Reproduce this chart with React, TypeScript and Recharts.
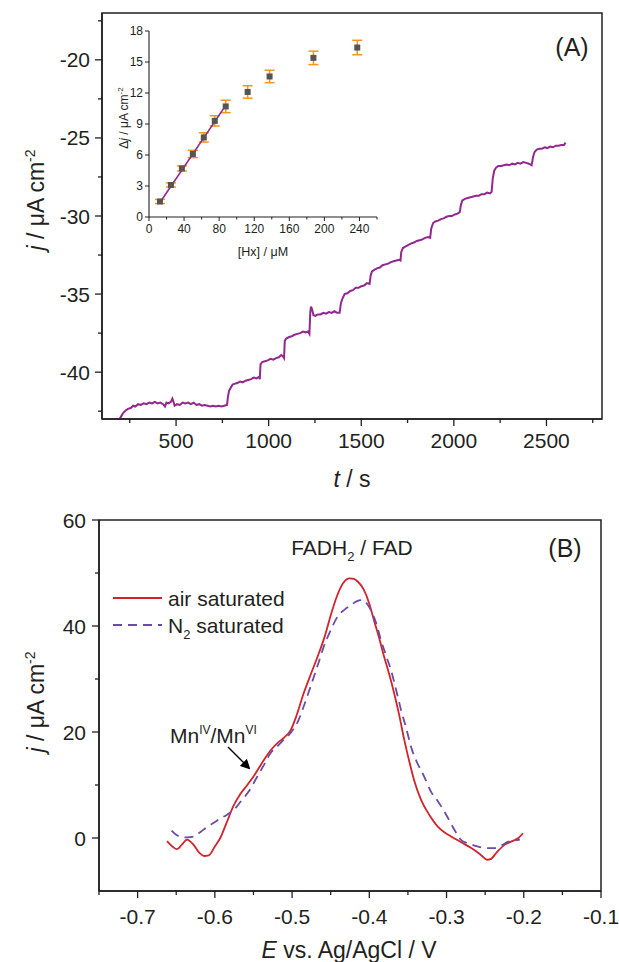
import React from 'react';
import {
  LineChart,
  Line,
  ComposedChart,
  Scatter,
  ErrorBar,
  XAxis,
  YAxis,
  ReferenceArea,
} from 'recharts';

const FONT = '"Liberation Sans", Arial, Helvetica, sans-serif';
const INK = '#231f20';
const PURPLE = '#93278f';

// (A) amperometric response, t in s, j in uA cm-2
const traceTime = [
  195, 205, 215, 228, 240, 255, 268, 280, 295, 310, 325, 340, 355, 370, 385, 400, 415, 430, 440, 448,
  460, 472, 480, 486, 492, 505, 520, 535, 550, 565, 580, 595, 610, 625, 640, 655, 670, 685, 700, 715,
  730, 745, 760, 775, 780, 786, 795, 805, 815, 830, 845, 860, 875, 890, 905, 920, 935, 948, 952, 956,
  965, 980, 995, 1010, 1025, 1040, 1055, 1068, 1078, 1083, 1087, 1095, 1110, 1125, 1140, 1155, 1170, 1185, 1200, 1212,
  1220, 1225, 1229, 1235, 1242, 1252, 1265, 1280, 1295, 1310, 1325, 1340, 1355, 1370, 1383, 1390, 1398, 1410, 1425, 1440,
  1455, 1470, 1485, 1500, 1515, 1530, 1545, 1551, 1558, 1570, 1585, 1600, 1615, 1630, 1645, 1660, 1675, 1690, 1705, 1712,
  1716, 1725, 1740, 1755, 1770, 1785, 1800, 1815, 1830, 1845, 1860, 1872, 1878, 1888, 1900, 1915, 1930, 1945, 1960, 1975,
  1990, 2005, 2020, 2032, 2038, 2046, 2060, 2075, 2090, 2105, 2120, 2135, 2150, 2165, 2180, 2195, 2204, 2210, 2218, 2228,
  2240, 2255, 2270, 2285, 2300, 2315, 2330, 2345, 2360, 2375, 2390, 2405, 2420, 2428, 2436, 2448, 2460, 2475, 2490, 2505,
  2520, 2535, 2550, 2565, 2580, 2595, 2603,
];
const traceCurrent = [
  -43.0, -42.8, -42.6, -42.45, -42.35, -42.3, -42.15, -42.2, -42.05, -42.1, -42.0, -42.05, -41.95, -42.0, -41.9, -42.0, -41.95, -42.05, -42.2, -41.95,
  -42.0, -41.9, -41.7, -41.9, -42.15, -42.05, -42.1, -41.95, -42.0, -41.95, -42.05, -41.95, -42.1, -42.05, -42.15, -42.1, -42.15, -42.2, -42.15, -42.2,
  -42.15, -42.2, -42.15, -42.1, -41.6, -41.2, -41.0, -40.8, -40.75, -40.7, -40.6, -40.65, -40.55, -40.5, -40.45, -40.35, -40.4, -40.3, -40.45, -39.5,
  -39.35, -39.3, -39.25, -39.15, -39.2, -39.1, -39.05, -38.9, -39.0, -39.1, -38.0, -37.85, -37.75, -37.7, -37.6, -37.55, -37.5, -37.4, -37.45, -37.4,
  -37.55, -36.1, -35.8, -36.0, -36.35, -36.4, -36.3, -36.3, -36.2, -36.25, -36.15, -36.2, -36.1, -36.2, -36.2, -35.6, -35.3, -35.0, -34.95, -34.8,
  -34.75, -34.6, -34.6, -34.5, -34.45, -34.3, -34.35, -33.8, -33.55, -33.45, -33.35, -33.3, -33.15, -33.1, -33.05, -32.95, -32.9, -32.85, -32.8, -32.85,
  -32.3, -32.05, -31.95, -31.85, -31.75, -31.7, -31.6, -31.55, -31.5, -31.4, -31.35, -31.4, -30.8, -30.45, -30.35, -30.3, -30.2, -30.15, -30.05, -30.0,
  -30.0, -29.9, -29.85, -29.75, -29.3, -29.0, -28.9, -28.85, -28.8, -28.75, -28.7, -28.7, -28.6, -28.6, -28.5, -28.55, -28.45, -27.6, -27.1, -26.9,
  -26.8, -26.8, -26.75, -26.7, -26.75, -26.65, -26.7, -26.6, -26.65, -26.55, -26.6, -26.65, -26.75, -26.2, -25.9, -25.75, -25.7, -25.7, -25.6, -25.65,
  -25.55, -25.6, -25.5, -25.5, -25.45, -25.45, -25.3,
];

// inset: calibration
const hxConc = [12.5, 25, 37.5, 50, 62.5, 75, 87.5, 112.5, 137.5, 187.5, 237.5];
const deltaJ = [1.5, 3.1, 4.7, 6.1, 7.7, 9.3, 10.7, 12.1, 13.6, 15.4, 16.4];
const deltaJErr = [0.2, 0.2, 0.25, 0.35, 0.45, 0.5, 0.6, 0.6, 0.6, 0.65, 0.7];
const fitConc = [12.5, 87.5];
const fitDeltaJ = [1.4, 10.8];

// (B) voltammograms, E in V, j in uA cm-2
const airE = [
  -0.662, -0.655, -0.649, -0.643, -0.636, -0.628, -0.62, -0.614, -0.608, -0.6, -0.593, -0.585, -0.576, -0.567, -0.558,
  -0.55, -0.537, -0.528, -0.519, -0.51, -0.502, -0.494, -0.485, -0.476, -0.467, -0.458, -0.45, -0.443, -0.437, -0.431,
  -0.426, -0.42, -0.415, -0.407, -0.4, -0.394, -0.387, -0.381, -0.374, -0.368, -0.361, -0.355, -0.348, -0.342, -0.333,
  -0.322, -0.311, -0.302, -0.294, -0.281, -0.268, -0.257, -0.247, -0.243, -0.235, -0.225, -0.215, -0.207, -0.201,
];
const airJ = [
  -0.6, -1.6, -2.1, -1.3, -0.3, -1.2, -2.8, -3.4, -3.3, -1.6, 0.0, 2.8, 6.0, 8.3, 10.0,
  11.6, 14.6, 16.5, 17.9, 19.0, 20.3, 23.2, 27.3, 30.8, 34.2, 37.9, 42.0, 45.2, 47.3, 48.6,
  49.0, 48.9, 48.4, 46.8, 44.2, 41.1, 37.6, 34.3, 30.8, 27.4, 23.0, 18.7, 14.3, 10.9, 7.2,
  4.3, 2.1, 1.0, 0.3, -0.8, -1.9, -3.0, -4.1, -4.0, -2.7, -1.3, -0.6, 0.0, 0.9,
];
const n2E = [
  -0.656, -0.65, -0.645, -0.636, -0.628, -0.619, -0.61, -0.6, -0.593, -0.585, -0.58, -0.573, -0.567, -0.556, -0.545,
  -0.536, -0.528, -0.519, -0.511, -0.502, -0.493, -0.485, -0.476, -0.467, -0.459, -0.45, -0.441, -0.432, -0.424, -0.416,
  -0.409, -0.403, -0.398, -0.391, -0.385, -0.378, -0.372, -0.365, -0.359, -0.352, -0.346, -0.338, -0.329, -0.32, -0.311,
  -0.299, -0.29, -0.281, -0.27, -0.26, -0.249, -0.238, -0.229, -0.22, -0.212, -0.205,
];
const n2J = [
  1.4, 0.6, 0.25, 0.1, 0.25, 1.1, 2.1, 3.0, 3.7, 4.3, 4.8, 5.7, 6.8, 8.8, 11.6,
  13.9, 16.0, 17.3, 18.5, 19.8, 21.8, 24.8, 28.6, 32.5, 36.1, 39.2, 41.8, 43.1, 43.9, 44.7,
  44.9, 44.2, 43.0, 40.5, 37.4, 34.3, 31.7, 27.8, 24.2, 20.6, 17.2, 14.2, 11.6, 8.7, 6.9,
  4.0, 1.6, -0.4, -1.1, -1.6, -1.9, -1.9, -1.4, -0.7, -0.5, -0.3,
];

// axis ticks
const tTicks = [250, 500, 750, 1000, 1250, 1500, 1750, 2000, 2250, 2500, 2750];
const jTicksA = [-42.5, -40, -37.5, -35, -32.5, -30, -27.5, -25, -22.5, -20, -17.5];
const hxTicks = [0, 20, 40, 60, 80, 100, 120, 140, 160, 180, 200, 220, 240, 260];
const djTicks = [0, 3, 6, 9, 12, 15, 18];
const eTicks = [-0.75, -0.7, -0.65, -0.6, -0.55, -0.5, -0.45, -0.4, -0.35, -0.3, -0.25, -0.2, -0.15, -0.1];
const jTicksB = [0, 10, 20, 30, 40, 50, 60];

const traceData = traceTime.map((t, i) => ({ t, j: traceCurrent[i] }));
const calData = hxConc.map((x, i) => ({ x, y: deltaJ[i], err: deltaJErr[i] }));
const fitData = fitConc.map((x, i) => ({ x, y: fitDeltaJ[i] }));
const airData = airE.map((e, i) => ({ e, j: airJ[i] }));
const n2Data = n2E.map((e, i) => ({ e, j: n2J[i] }));

const isMult = (v: number, step: number) => Math.abs(v / step - Math.round(v / step)) < 1e-6;

type TickOpts = {
  side: 'bottom' | 'left';
  major: (v: number) => boolean;
  fmt: (v: number) => string;
  fontSize: number;
  gap: number;
  long: number;
  short: number;
  sw?: number;
};

const makeTick = (o: TickOpts) => (p: any) => {
  const { x, y } = p;
  const v = p.payload.value;
  const big = o.major(v);
  const len = big ? o.long : o.short;
  const sw = o.sw || 1.3;
  if (o.side === 'bottom') {
    return (
      <g>
        <line x1={x} y1={y} x2={x} y2={y + len} stroke={INK} strokeWidth={sw} />
        {big && (
          <text x={x} y={y + o.gap} textAnchor="middle" fontSize={o.fontSize} fontFamily={FONT} fill={INK}>
            {o.fmt(v)}
          </text>
        )}
      </g>
    );
  }
  return (
    <g>
      <line x1={x} y1={y} x2={x - len} y2={y} stroke={INK} strokeWidth={sw} />
      {big && (
        <text x={x - o.gap} y={y + o.fontSize * 0.36} textAnchor="end" fontSize={o.fontSize} fontFamily={FONT} fill={INK}>
          {o.fmt(v)}
        </text>
      )}
    </g>
  );
};

const tickAX = makeTick({ side: 'bottom', major: (v) => isMult(v, 500), fmt: (v) => String(v), fontSize: 21, gap: 29, long: 7, short: 4 });
const tickAY = makeTick({ side: 'left', major: (v) => isMult(v, 5), fmt: (v) => String(v), fontSize: 21, gap: 12, long: 7, short: 4 });
const tickInX = makeTick({ side: 'bottom', major: (v) => isMult(v, 40), fmt: (v) => String(v), fontSize: 12, gap: 16, long: 4, short: 2.5, sw: 1 });
const tickInY = makeTick({ side: 'left', major: () => true, fmt: (v) => String(v), fontSize: 12, gap: 6, long: 4, short: 4, sw: 1 });
const tickBX = makeTick({ side: 'bottom', major: (v) => isMult(v, 0.1), fmt: (v) => v.toFixed(1), fontSize: 21, gap: 33, long: 7, short: 4 });
const tickBY = makeTick({ side: 'left', major: (v) => isMult(v, 20), fmt: (v) => String(v), fontSize: 21, gap: 13, long: 7, short: 4 });

const Square = (p: any) => {
  const { cx, cy } = p;
  if (cx == null || cy == null) return null;
  return <rect x={cx - 3} y={cy - 3} width={6} height={6} fill="#555555" />;
};

const axisLine = { stroke: INK, strokeWidth: 1.5 };

export default function App() {
  return (
    <div style={{ position: 'absolute', left: 0, top: 0, width: 619, height: 962, background: '#fff', overflow: 'hidden' }}>
      {/* (A) */}
      <div style={{ position: 'absolute', left: 0, top: 0 }}>
        <LineChart width={619} height={500} data={traceData} margin={{ top: 13, right: 17, bottom: 41, left: 0 }}>
          <XAxis
            type="number"
            dataKey="t"
            domain={[100, 2800]}
            ticks={tTicks}
            interval={0}
            allowDataOverflow
            tickSize={0}
            tickMargin={0}
            tickLine={false}
            axisLine={axisLine}
            tick={tickAX}
            height={40}
          />
          <YAxis
            type="number"
            domain={[-43, -17]}
            ticks={jTicksA}
            interval={0}
            allowDataOverflow
            tickSize={0}
            tickMargin={0}
            tickLine={false}
            axisLine={axisLine}
            tick={tickAY}
            width={102}
          />
          <ReferenceArea x1={100} x2={2800} y1={-43} y2={-17} fill="none" fillOpacity={0} stroke={INK} strokeWidth={1.5} />
          <Line type="linear" dataKey="j" stroke={PURPLE} strokeWidth={2} dot={false} isAnimationActive={false} />
        </LineChart>
      </div>

      {/* inset */}
      <div style={{ position: 'absolute', left: 0, top: 0 }}>
        <ComposedChart width={400} height={270} margin={{ top: 31, right: 23, bottom: 23, left: 0 }}>
          <XAxis
            type="number"
            dataKey="x"
            domain={[0, 260]}
            ticks={hxTicks}
            interval={0}
            allowDataOverflow
            tickSize={0}
            tickMargin={0}
            tickLine={false}
            axisLine={{ stroke: INK, strokeWidth: 1.1 }}
            tick={tickInX}
            height={30}
          />
          <YAxis
            type="number"
            dataKey="y"
            domain={[0, 18]}
            ticks={djTicks}
            interval={0}
            allowDataOverflow
            tickSize={0}
            tickMargin={0}
            tickLine={false}
            axisLine={{ stroke: INK, strokeWidth: 1.1 }}
            tick={tickInY}
            width={149}
          />
          <Scatter data={calData} dataKey="y" shape={Square} isAnimationActive={false}>
            <ErrorBar dataKey="err" direction="y" width={5} stroke="#f7941d" strokeWidth={1.5} isAnimationActive={false} />
          </Scatter>
          <Line data={fitData} type="linear" dataKey="y" stroke={PURPLE} strokeWidth={1.6} dot={false} isAnimationActive={false} />
        </ComposedChart>
      </div>

      {/* (B) */}
      <div style={{ position: 'absolute', left: 0, top: 500 }}>
        <LineChart width={619} height={462} margin={{ top: 20, right: 18, bottom: 31, left: 0 }}>
          <XAxis
            type="number"
            dataKey="e"
            domain={[-0.75, -0.1]}
            ticks={eTicks}
            interval={0}
            allowDataOverflow
            tickSize={0}
            tickMargin={0}
            tickLine={false}
            axisLine={axisLine}
            tick={tickBX}
            height={40}
          />
          <YAxis
            type="number"
            domain={[-10, 60]}
            ticks={jTicksB}
            interval={0}
            allowDataOverflow
            tickSize={0}
            tickMargin={0}
            tickLine={false}
            axisLine={axisLine}
            tick={tickBY}
            width={99}
          />
          <ReferenceArea x1={-0.75} x2={-0.1} y1={-10} y2={60} fill="none" fillOpacity={0} stroke={INK} strokeWidth={1.5} />
          <Line data={airData} type="monotone" dataKey="j" stroke="#d2232a" strokeWidth={1.8} dot={false} isAnimationActive={false} />
          <Line data={n2Data} type="monotone" dataKey="j" stroke="#6a4ba6" strokeWidth={1.8} strokeDasharray="9 6" dot={false} isAnimationActive={false} />
        </LineChart>
      </div>

      {/* labels */}
      <svg width={619} height={962} style={{ position: 'absolute', left: 0, top: 0, pointerEvents: 'none' }} fontFamily={FONT} fill={INK}>
        <defs>
          <marker id="arrowHead" markerWidth="10" markerHeight="10" refX="8" refY="5" orient="auto" markerUnits="userSpaceOnUse">
            <path d="M0,0 L10,5 L0,10 z" fill="#000" />
          </marker>
        </defs>

        <text x={572} y={56} fontSize={25} textAnchor="middle">(A)</text>
        <text x={352} y={487} fontSize={23} textAnchor="middle">
          <tspan fontStyle="italic">t</tspan> / s
        </text>
        <text transform="translate(44,200) rotate(-90)" fontSize={23} textAnchor="middle">
          <tspan fontStyle="italic">j</tspan> / μA cm<tspan dy={-9} fontSize={14}>-2</tspan>
        </text>

        <text x={263} y={256} fontSize={12.5} textAnchor="middle">[Hx] / μM</text>
        <text transform="translate(128,118) rotate(-90)" fontSize={12} textAnchor="middle">
          Δ<tspan fontStyle="italic">j</tspan> / μA cm<tspan dy={-5} fontSize={8}>-2</tspan>
        </text>

        <text x={352} y={555} fontSize={21} textAnchor="middle">
          FADH<tspan dy={6} fontSize={13}>2</tspan><tspan dy={-6}> / FAD</tspan>
        </text>
        <text x={565} y={557} fontSize={25} textAnchor="middle">(B)</text>

        <line x1={113} y1={598} x2={162} y2={598} stroke="#d2232a" strokeWidth={1.8} />
        <text x={168} y={606} fontSize={21}>air saturated</text>
        <line x1={113} y1={625} x2={162} y2={625} stroke="#6a4ba6" strokeWidth={1.8} strokeDasharray="9 6" />
        <text x={168} y={633} fontSize={21}>
          N<tspan dy={6} fontSize={13}>2</tspan><tspan dy={-6}> saturated</tspan>
        </text>

        <text x={170} y={743} fontSize={21}>
          Mn<tspan dy={-9} fontSize={12}>IV</tspan><tspan dy={9}>/Mn</tspan><tspan dy={-9} fontSize={12}>VI</tspan>
        </text>
        <line x1={228} y1={747} x2={249} y2={768} stroke="#000" strokeWidth={1.4} markerEnd="url(#arrowHead)" />

        <text x={349} y={958} fontSize={23} textAnchor="middle">
          <tspan fontStyle="italic">E</tspan> vs. Ag/AgCl / V
        </text>
        <text transform="translate(44,702) rotate(-90)" fontSize={23} textAnchor="middle">
          <tspan fontStyle="italic">j</tspan> / μA cm<tspan dy={-9} fontSize={14}>-2</tspan>
        </text>
      </svg>
    </div>
  );
}
